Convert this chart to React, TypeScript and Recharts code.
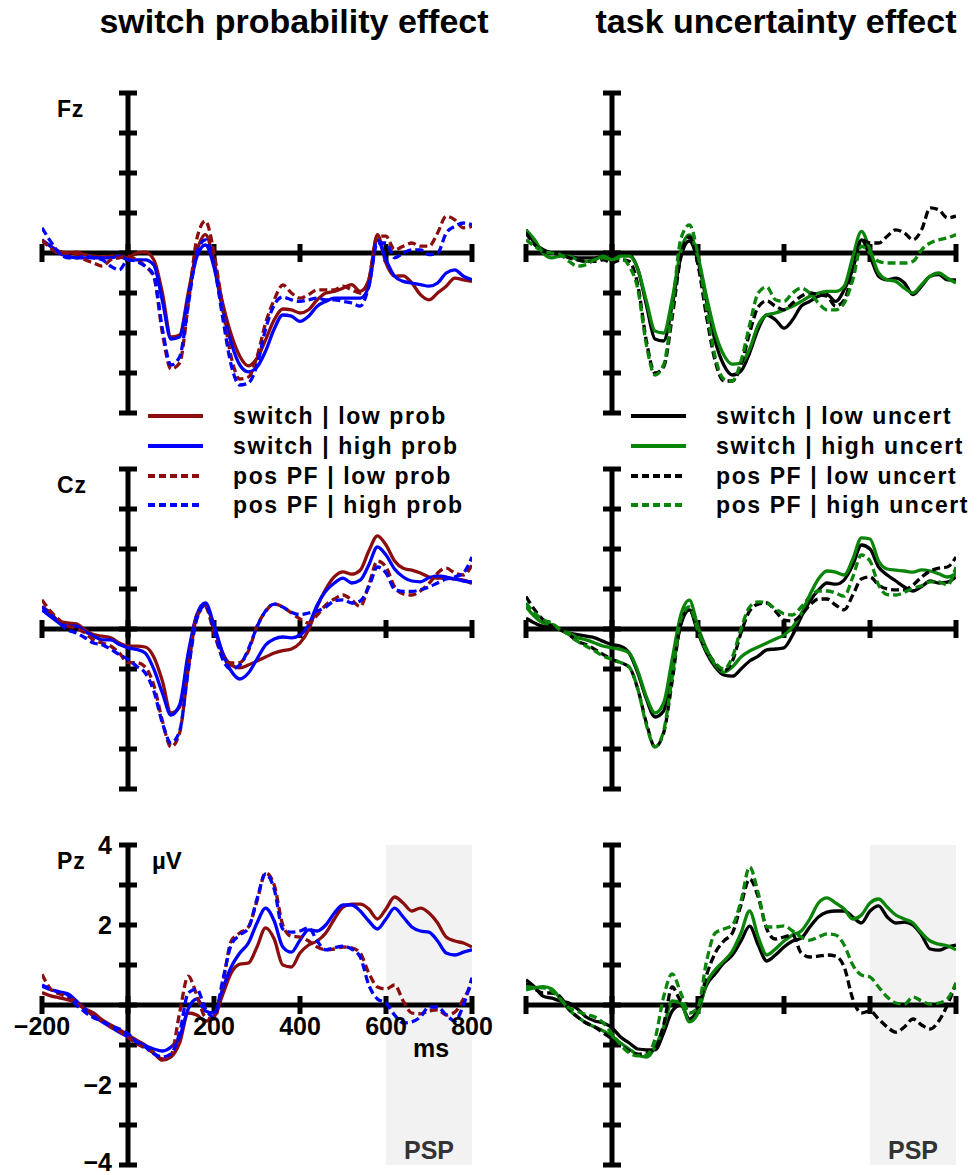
import React from 'react';
import { LineChart, Line, XAxis, YAxis, ReferenceLine, ReferenceArea, ReferenceDot } from 'recharts';

const FONT = "'Liberation Sans', Arial, Helvetica, sans-serif";
const DARK_RED = '#8b0d0d';
const BLUE = '#0000ff';
const GREEN = '#0a850a';
const BLACK = '#000000';

// time axis (ms), one sample every 20 ms
const TIMES = [
  -200, -180, -160, -140, -120, -100, -80, -60, -40, -20, 0, 20, 40, 60, 80, 100, 120, 140, 160, 180,
  200, 220, 240, 260, 280, 300, 320, 340, 360, 380, 400, 420, 440, 460, 480, 500, 520, 540, 560, 580,
  600, 620, 640, 660, 680, 700, 720, 740, 760, 780, 800,
];

const Y_TICKS = [-4, -3, -2, -1, 0, 1, 2, 3, 4];
const X_TICKS = [-200, 0, 200, 400, 600, 800];
const Y_TICK_LABELS = [4, 2, -2, -4];
const X_TICK_LABELS = [-200, 200, 400, 600, 800];

const PROB_LABELS = ['switch | low prob', 'switch | high prob', 'pos PF | low prob', 'pos PF | high prob'];
const UNCERT_LABELS = ['switch | low uncert', 'switch | high uncert', 'pos PF | low uncert', 'pos PF | high uncert'];
const PROB_COLORS = [DARK_RED, BLUE, DARK_RED, BLUE];
const UNCERT_COLORS = [BLACK, GREEN, BLACK, GREEN];
const DASHED = [false, false, true, true];

// ---- Fz, switch probability ----
const FZ_SW_LOW = [0.29, 0.17, 0.04, 0, 0.02, -0.04, -0.08, -0.1, -0.08, -0.08, -0.12, 0, 0.02, -0.17, -1.0, -2.1, -2.05, -1.0, 0.04, 0.46, -0.21, -1.25, -2.04, -2.58, -2.82, -2.63, -2.17, -1.67, -1.4, -1.42, -1.5, -1.42, -1.17, -1.0, -0.96, -0.88, -0.79, -0.96, -0.67, 0.46, -0.25, -0.58, -0.57, -0.75, -1.04, -1.17, -1.0, -0.83, -0.63, -0.67, -0.71];
const FZ_SW_HIGH = [0.33, 0.17, 0, -0.08, -0.12, -0.12, -0.12, -0.12, -0.12, -0.08, -0.17, -0.17, -0.17, -0.3, -1.2, -2.15, -2.1, -1.1, -0.1, 0.2, -0.35, -1.4, -2.25, -2.8, -2.97, -2.85, -2.45, -1.9, -1.55, -1.58, -1.71, -1.58, -1.33, -1.21, -1.13, -1.13, -1.13, -1.13, -0.83, 0.33, -0.17, -0.58, -0.71, -0.75, -0.79, -0.83, -0.75, -0.5, -0.42, -0.58, -0.67];
const FZ_PF_LOW = [0.33, 0.12, 0, 0, -0.04, -0.17, -0.25, -0.33, -0.17, -0.12, -0.08, -0.17, -0.33, -0.6, -2.0, -2.9, -2.75, -1.3, 0.35, 0.8, 0, -1.35, -2.6, -3.15, -3.1, -2.6, -1.75, -1.17, -0.8, -1.0, -1.13, -1.04, -0.92, -0.92, -0.92, -0.83, -0.92, -1.0, -0.67, 0.42, 0.42, 0.08, 0.17, 0.25, 0.17, 0.17, 0.5, 0.92, 0.83, 0.63, 0.67];
const FZ_PF_HIGH = [0.63, 0.29, 0, -0.12, -0.12, -0.08, -0.12, -0.17, -0.33, -0.42, -0.17, -0.21, -0.33, -0.55, -1.9, -2.8, -2.6, -1.3, 0, 0.33, -0.3, -1.6, -2.8, -3.3, -3.25, -2.8, -1.9, -1.3, -1.1, -1.17, -1.21, -1.17, -1.13, -1.17, -1.17, -1.21, -1.25, -1.33, -0.83, 0.25, 0.25, -0.12, 0, 0.08, 0.08, -0.04, 0, 0.5, 0.67, 0.75, 0.71];

// ---- Fz, task uncertainty ----
const FZ_SW_LOWU = [0.58, 0.25, 0.08, 0, -0.04, -0.08, -0.12, -0.12, -0.12, -0.08, -0.12, -0.04, -0.05, -0.4, -1.3, -2.15, -2.2, -1.3, -0.1, 0.3, -0.2, -1.2, -2.2, -2.8, -3.05, -2.95, -2.5, -1.9, -1.55, -1.67, -1.88, -1.67, -1.33, -1.21, -1.08, -1.04, -1.21, -0.92, -0.4, 0.33, -0.08, -0.58, -0.67, -0.63, -0.75, -1.04, -0.83, -0.58, -0.54, -0.67, -0.67];
const FZ_SW_HIGHU = [0.58, 0.33, 0, -0.12, -0.08, -0.08, -0.17, -0.21, -0.17, -0.08, -0.17, -0.08, -0.08, -0.4, -1.2, -1.95, -2.0, -1.15, 0.05, 0.45, -0.1, -1.1, -2.0, -2.55, -2.78, -2.75, -2.4, -1.8, -1.55, -1.5, -1.42, -1.33, -1.21, -1.08, -1.0, -0.96, -0.96, -0.83, -0.1, 0.54, 0.08, -0.5, -0.67, -0.71, -0.88, -1.0, -0.79, -0.58, -0.5, -0.63, -0.75];
const FZ_PF_LOWU = [0.5, 0.21, 0.04, 0, -0.04, -0.12, -0.17, -0.21, -0.21, -0.17, -0.25, -0.17, -0.21, -0.8, -2.2, -3.0, -2.85, -1.6, -0.1, 0.4, -0.3, -1.6, -2.7, -3.2, -3.2, -2.8, -2.0, -1.35, -1.2, -1.33, -1.42, -1.25, -1.08, -1.0, -1.04, -1.08, -1.33, -1.17, -0.5, 0.33, 0.25, 0.25, 0.42, 0.58, 0.5, 0.33, 0.58, 1.13, 1.08, 0.88, 0.92];
const FZ_PF_HIGHU = [0.33, 0.17, 0.04, 0, -0.04, -0.21, -0.33, -0.29, -0.17, -0.12, -0.17, -0.12, -0.33, -0.9, -2.3, -3.05, -2.8, -1.4, 0.35, 0.7, -0.05, -1.4, -2.6, -3.15, -3.2, -2.7, -1.8, -1.0, -0.85, -1.17, -1.21, -1.0, -0.88, -1.0, -1.25, -1.42, -1.42, -1.25, -0.67, 0.17, 0, -0.21, -0.25, -0.25, -0.25, -0.21, 0.08, 0.25, 0.33, 0.38, 0.46];

// ---- Cz, switch probability ----
const CZ_SW_LOW = [0.56, 0.4, 0.19, 0.15, 0.13, -0.02, -0.14, -0.18, -0.22, -0.35, -0.43, -0.43, -0.45, -0.7, -1.3, -2.1, -1.95, -0.7, 0.35, 0.6, 0.05, -0.6, -0.9, -0.97, -0.9, -0.8, -0.7, -0.6, -0.54, -0.5, -0.35, -0.02, 0.56, 1.0, 1.31, 1.43, 1.37, 1.47, 1.95, 2.33, 2.1, 1.7, 1.52, 1.47, 1.4, 1.3, 1.27, 1.27, 1.25, 1.22, 1.14];
const CZ_SW_HIGH = [0.48, 0.31, 0.15, 0.07, 0.07, -0.06, -0.18, -0.27, -0.27, -0.39, -0.47, -0.51, -0.6, -1.0, -1.6, -2.15, -1.9, -0.6, 0.35, 0.65, 0.1, -0.6, -1.05, -1.25, -1.1, -0.75, -0.4, -0.25, -0.2, -0.22, -0.15, 0.1, 0.6, 0.95, 1.15, 1.27, 1.15, 1.22, 1.6, 2.05, 1.85, 1.5, 1.3, 1.2, 1.18, 1.28, 1.33, 1.3, 1.25, 1.2, 1.18];
const CZ_PF_LOW = [0.73, 0.44, 0.23, 0.07, 0.02, -0.1, -0.27, -0.35, -0.43, -0.6, -0.84, -0.84, -0.95, -1.4, -2.3, -2.95, -2.6, -1.0, 0.3, 0.55, -0.1, -0.7, -0.85, -0.84, -0.55, 0.07, 0.44, 0.63, 0.55, 0.4, 0.25, 0.15, 0.35, 0.6, 0.75, 0.85, 0.73, 0.56, 1.1, 1.7, 1.55, 1.05, 0.88, 0.85, 0.95, 1.14, 1.4, 1.52, 1.4, 1.35, 1.6];
const CZ_PF_HIGH = [0.56, 0.36, 0.15, -0.02, -0.1, -0.22, -0.35, -0.39, -0.51, -0.64, -0.76, -0.93, -1.1, -1.55, -2.35, -2.85, -2.55, -1.05, 0.25, 0.6, 0, -0.75, -1.0, -0.9, -0.5, 0.05, 0.45, 0.62, 0.55, 0.42, 0.36, 0.4, 0.45, 0.55, 0.7, 0.73, 0.65, 0.7, 1.05, 1.55, 1.4, 1.0, 0.94, 0.94, 0.98, 1.05, 1.15, 1.25, 1.3, 1.4, 1.8];

// ---- Cz, task uncertainty ----
const CZ_SW_LOWU = [0.27, 0.15, 0.07, 0.11, -0.02, -0.1, -0.14, -0.18, -0.22, -0.31, -0.39, -0.43, -0.6, -1.1, -1.75, -2.2, -2.05, -1.0, 0.1, 0.48, -0.1, -0.6, -0.95, -1.15, -1.18, -1.0, -0.8, -0.68, -0.52, -0.5, -0.47, -0.15, 0.3, 0.7, 0.97, 1.15, 1.12, 1.23, 1.6, 2.1, 2.0, 1.55, 1.35, 1.2, 1.05, 0.95, 1.06, 1.2, 1.15, 1.17, 1.3];
const CZ_SW_HIGHU = [0.56, 0.31, 0.15, 0.11, -0.02, -0.1, -0.22, -0.27, -0.35, -0.43, -0.47, -0.51, -0.6, -1.05, -1.7, -2.1, -1.85, -0.75, 0.35, 0.72, 0.05, -0.5, -0.9, -1.08, -0.95, -0.7, -0.55, -0.45, -0.35, -0.25, -0.15, 0.05, 0.38, 0.85, 1.25, 1.45, 1.42, 1.35, 1.75, 2.28, 2.25, 1.7, 1.5, 1.47, 1.45, 1.42, 1.48, 1.45, 1.38, 1.3, 1.38];
const CZ_PF_LOWU = [0.81, 0.48, 0.23, 0.07, -0.02, -0.14, -0.31, -0.39, -0.51, -0.64, -0.76, -0.84, -0.95, -1.5, -2.35, -2.95, -2.6, -1.3, 0.15, 0.5, -0.05, -0.55, -0.85, -1.05, -0.8, -0.1, 0.45, 0.62, 0.65, 0.45, 0.22, 0.2, 0.35, 0.6, 0.75, 0.75, 0.6, 0.48, 0.85, 1.25, 1.3, 1.1, 1.0, 0.98, 0.98, 1.1, 1.3, 1.45, 1.52, 1.55, 1.8];
const CZ_PF_HIGHU = [0.65, 0.4, 0.23, 0.15, -0.02, -0.14, -0.31, -0.43, -0.55, -0.68, -0.76, -0.84, -0.95, -1.5, -2.4, -2.95, -2.55, -1.2, 0.25, 0.55, -0.05, -0.55, -0.85, -1.0, -0.7, 0, 0.55, 0.68, 0.65, 0.5, 0.38, 0.35, 0.55, 0.8, 0.95, 0.95, 0.9, 0.82, 1.3, 1.85, 1.7, 1.1, 0.86, 0.85, 0.92, 1.02, 1.08, 1.18, 1.18, 1.1, 1.55];

// ---- Pz, switch probability ----
const PZ_SW_LOW = [0.31, 0.23, 0.18, 0.13, 0.05, -0.1, -0.2, -0.37, -0.5, -0.62, -0.75, -0.88, -1.0, -1.2, -1.38, -1.3, -0.95, -0.2, -0.25, -0.4, -0.3, 0.25, 0.8, 1.02, 1.05, 1.45, 1.93, 1.65, 1.0, 0.95, 1.3, 1.5, 1.6, 1.8, 2.15, 2.45, 2.52, 2.52, 2.4, 2.15, 2.4, 2.7, 2.55, 2.35, 2.42, 2.3, 2.05, 1.7, 1.6, 1.55, 1.45];
const PZ_SW_HIGH = [0.47, 0.38, 0.33, 0.28, 0.1, -0.1, -0.28, -0.42, -0.55, -0.68, -0.8, -0.92, -1.02, -1.1, -1.15, -1.05, -0.8, -0.1, 0.15, -0.15, -0.2, 0.4, 0.95, 1.3, 1.55, 2.05, 2.42, 2.1, 1.45, 1.32, 1.62, 1.88, 1.85, 2.0, 2.3, 2.5, 2.5, 2.35, 2.1, 1.9, 2.15, 2.42, 2.2, 1.95, 1.85, 1.82, 1.6, 1.3, 1.25, 1.32, 1.38];
const PZ_PF_LOW = [0.77, 0.4, 0.28, 0.2, 0.07, -0.1, -0.27, -0.4, -0.55, -0.65, -0.8, -0.97, -1.08, -1.2, -1.35, -1.25, -0.2, 0.72, 0.25, -0.3, -0.35, 0.5, 1.6, 1.8, 1.95, 2.6, 3.3, 3.0, 2.0, 1.72, 1.7, 1.6, 1.45, 1.38, 1.4, 1.45, 1.43, 1.3, 0.8, 0.45, 0.4, 0.5, 0.1, -0.2, -0.22, -0.15, -0.12, -0.25, -0.18, 0.15, 0.52];
const PZ_PF_HIGH = [0.5, 0.4, 0.32, 0.25, 0, -0.18, -0.32, -0.4, -0.52, -0.6, -0.72, -0.92, -1.05, -1.22, -1.3, -1.22, -0.7, 0.3, 0.4, -0.1, -0.3, 0.6, 1.5, 1.75, 1.92, 2.65, 3.28, 2.9, 1.9, 1.82, 1.85, 1.93, 1.6, 1.38, 1.43, 1.47, 1.4, 1.2, 0.5, 0.15, 0.05, -0.25, -0.45, -0.42, -0.3, -0.05, -0.05, -0.25, -0.4, 0, 0.68];

// ---- Pz, task uncertainty ----
const PZ_SW_LOWU = [0.63, 0.45, 0.22, 0.17, 0.1, 0.05, -0.1, -0.3, -0.4, -0.45, -0.57, -0.8, -0.95, -1.1, -1.12, -1.12, -0.7, -0.15, 0, -0.35, -0.1, 0.5, 0.78, 1.05, 1.25, 1.6, 1.97, 1.5, 1.1, 1.25, 1.45, 1.6, 1.67, 1.95, 2.2, 2.32, 2.35, 2.35, 2.2, 2.05, 2.35, 2.48, 2.2, 2.05, 2.07, 2.0, 1.75, 1.4, 1.37, 1.45, 1.5];
const PZ_SW_HIGHU = [0.38, 0.43, 0.46, 0.4, 0.15, -0.12, -0.3, -0.45, -0.55, -0.65, -0.78, -0.95, -1.1, -1.25, -1.3, -1.05, -0.55, 0.1, 0.05, -0.42, -0.2, 0.55, 0.88, 1.1, 1.35, 1.8, 2.35, 1.7, 1.25, 1.4, 1.6, 1.75, 1.85, 2.15, 2.55, 2.68, 2.55, 2.4, 2.15, 2.25, 2.55, 2.65, 2.45, 2.25, 2.15, 2.05, 1.8, 1.6, 1.52, 1.48, 1.38];
const PZ_PF_LOWU = [0.55, 0.4, 0.3, 0.3, 0.2, -0.1, -0.3, -0.45, -0.55, -0.7, -0.85, -1.0, -1.15, -1.23, -1.2, -1.1, -0.5, 0.45, 0.1, 0, -0.05, 0.75, 1.3, 1.6, 1.8, 2.5, 3.15, 2.7, 1.9, 1.65, 1.7, 1.75, 1.3, 1.2, 1.22, 1.25, 1.22, 0.95, 0.15, -0.2, -0.15, -0.35, -0.55, -0.68, -0.55, -0.35, -0.5, -0.6, -0.4, 0, 0.55];
const PZ_PF_HIGHU = [0.46, 0.44, 0.43, 0.35, 0.15, -0.07, -0.16, -0.24, -0.3, -0.45, -0.72, -1.0, -1.2, -1.27, -1.25, -0.85, 0.2, 0.78, 0.3, -0.2, -0.05, 1.1, 1.8, 1.9, 2.0, 2.6, 3.45, 2.8, 1.95, 1.95, 1.98, 1.85, 1.7, 1.62, 1.7, 1.78, 1.75, 1.5, 1.0, 0.75, 0.7, 0.45, 0.2, 0.05, 0.02, 0.2, 0.1, 0.02, 0.05, 0.15, 0.55];

const PLOT_W = 430;
const PLOT_H = 320;
const M = 40;
const COL_X = [42, 526];
const ROW_Y = [93, 469, 845];
const LEGEND_Y = [416, 446, 476, 505];
const TICK_HALF_MS = 21;
const TICK_HALF_UV = 0.225;
const PAGE_H = 1175;

const fmt = (v: number) => (v < 0 ? '\u2212' + Math.abs(v) : String(v));

const textStyle = { fontFamily: FONT, fontWeight: 700 } as const;

interface PanelProps {
  x: number;
  y: number;
  values: number[][];
  colors: string[];
  names: string[];
  psp?: boolean;
  tickLabels?: boolean;
}

function Panel({ x, y, values, colors, names, psp, tickLabels }: PanelProps) {
  const data = TIMES.map((t, i) => {
    const row: Record<string, number> = { t };
    values.forEach((v, j) => {
      row['s' + j] = v[i];
    });
    return row;
  });
  // keep the lowest y label inside the page
  const maxBaseline = PAGE_H - 4 - (y - M);

  return (
    <div style={{ position: 'absolute', left: x - M, top: y - M }}>
      <LineChart
        width={PLOT_W + 2 * M}
        height={PLOT_H + 2 * M}
        data={data}
        margin={{ top: M, right: M, bottom: M, left: M }}
      >
        <XAxis type="number" dataKey="t" domain={[-200, 800]} hide allowDataOverflow />
        <YAxis type="number" domain={[-4, 4]} hide allowDataOverflow />

        {psp && (
          <ReferenceArea
            x1={600}
            x2={800}
            y1={-4}
            y2={4}
            fill="#f2f2f2"
            fillOpacity={1}
            stroke="none"
            label={{ value: 'PSP', position: 'insideBottom', offset: 6, fill: '#333333', fontSize: 25, fontWeight: 700, fontFamily: FONT }}
          />
        )}

        {/* axes cross at zero */}
        <ReferenceLine y={0} stroke="#000" strokeWidth={5} />
        <ReferenceLine x={0} stroke="#000" strokeWidth={5} />
        {Y_TICKS.map((v) => (
          <ReferenceLine
            key={'yt' + v}
            segment={[{ x: -TICK_HALF_MS, y: v }, { x: TICK_HALF_MS, y: v }]}
            stroke="#000"
            strokeWidth={5}
            ifOverflow="visible"
          />
        ))}
        {X_TICKS.map((t) => (
          <ReferenceLine
            key={'xt' + t}
            segment={[{ x: t, y: -TICK_HALF_UV }, { x: t, y: TICK_HALF_UV }]}
            stroke="#000"
            strokeWidth={5}
            ifOverflow="visible"
          />
        ))}

        {values.map((_, j) => (
          <Line
            key={names[j]}
            name={names[j]}
            dataKey={'s' + j}
            type="monotone"
            stroke={colors[j]}
            strokeWidth={3.3}
            strokeDasharray={DASHED[j] ? '8 4' : undefined}
            dot={false}
            activeDot={false}
            isAnimationActive={false}
          />
        ))}

        {tickLabels &&
          Y_TICK_LABELS.map((v) => (
            <ReferenceDot
              key={'yl' + v}
              x={0}
              y={v}
              ifOverflow="visible"
              shape={(p: any) => (
                <text
                  x={p.cx - 16}
                  y={Math.min(p.cy + 9, maxBaseline)}
                  textAnchor="end"
                  fontSize={25}
                  fill="#000"
                  style={textStyle}
                >
                  {fmt(v)}
                </text>
              )}
            />
          ))}
        {tickLabels &&
          X_TICK_LABELS.map((t) => (
            <ReferenceDot
              key={'xl' + t}
              x={t}
              y={0}
              ifOverflow="visible"
              shape={(p: any) => (
                <text x={p.cx} y={p.cy + 30} textAnchor="middle" fontSize={25} fill="#000" style={textStyle}>
                  {fmt(t)}
                </text>
              )}
            />
          ))}
      </LineChart>
    </div>
  );
}

function LegendBlock({ x, labels, colors }: { x: number; labels: string[]; colors: string[] }) {
  return (
    <g>
      {labels.map((label, i) => (
        <g key={label}>
          <line
            x1={x}
            x2={x + 55}
            y1={LEGEND_Y[i]}
            y2={LEGEND_Y[i]}
            stroke={colors[i]}
            strokeWidth={4}
            strokeDasharray={DASHED[i] ? '7 4' : undefined}
          />
          <text x={x + 85} y={LEGEND_Y[i] + 8} fontSize={23} letterSpacing={1.6} fill="#000" style={textStyle}>
            {label}
          </text>
        </g>
      ))}
    </g>
  );
}

export default function App() {
  const rows = [
    { name: 'Fz', prob: [FZ_SW_LOW, FZ_SW_HIGH, FZ_PF_LOW, FZ_PF_HIGH], unc: [FZ_SW_LOWU, FZ_SW_HIGHU, FZ_PF_LOWU, FZ_PF_HIGHU] },
    { name: 'Cz', prob: [CZ_SW_LOW, CZ_SW_HIGH, CZ_PF_LOW, CZ_PF_HIGH], unc: [CZ_SW_LOWU, CZ_SW_HIGHU, CZ_PF_LOWU, CZ_PF_HIGHU] },
    { name: 'Pz', prob: [PZ_SW_LOW, PZ_SW_HIGH, PZ_PF_LOW, PZ_PF_HIGH], unc: [PZ_SW_LOWU, PZ_SW_HIGHU, PZ_PF_LOWU, PZ_PF_HIGHU] },
  ];

  return (
    <div style={{ position: 'absolute', left: 0, top: 0, width: 977, height: PAGE_H, background: '#fff', overflow: 'hidden' }}>
      {rows.map((r, i) => (
        <React.Fragment key={r.name}>
          <Panel x={COL_X[0]} y={ROW_Y[i]} values={r.prob} colors={PROB_COLORS} names={PROB_LABELS} psp={i === 2} tickLabels={i === 2} />
          <Panel x={COL_X[1]} y={ROW_Y[i]} values={r.unc} colors={UNCERT_COLORS} names={UNCERT_LABELS} psp={i === 2} />
        </React.Fragment>
      ))}

      <svg width={977} height={PAGE_H} style={{ position: 'absolute', left: 0, top: 0, pointerEvents: 'none' }}>
        <text x={294} y={33} textAnchor="middle" fontSize={34} fill="#000" style={textStyle}>
          switch probability effect
        </text>
        <text x={776} y={33} textAnchor="middle" fontSize={34} fill="#000" style={textStyle}>
          task uncertainty effect
        </text>

        {rows.map((r, i) => (
          <text key={r.name} x={57} y={ROW_Y[i] + 24} fontSize={23} letterSpacing={0.8} fill="#000" style={textStyle}>
            {r.name}
          </text>
        ))}

        <text x={152} y={869} fontSize={24} fill="#000" style={textStyle}>µV</text>
        <text x={413} y={1057} fontSize={25} fill="#000" style={textStyle}>ms</text>

        <LegendBlock x={148} labels={PROB_LABELS} colors={PROB_COLORS} />
        <LegendBlock x={631} labels={UNCERT_LABELS} colors={UNCERT_COLORS} />
      </svg>
    </div>
  );
}
